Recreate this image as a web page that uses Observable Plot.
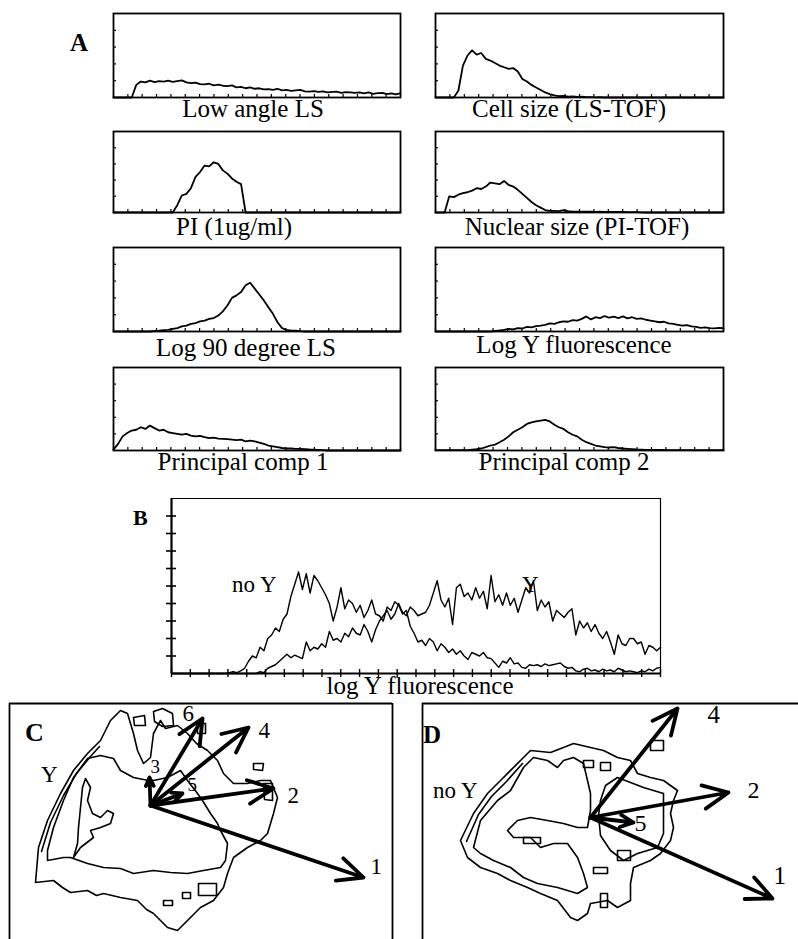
<!DOCTYPE html>
<html>
<head>
<meta charset="utf-8">
<script src="https://cdn.jsdelivr.net/npm/d3@7"></script>
<script src="https://cdn.jsdelivr.net/npm/@observablehq/plot@0.6"></script>
<style>
  html, body { margin: 0; padding: 0; background: #fff; overflow: hidden; }
  #root { position: relative; width: 798px; height: 939px; overflow: hidden; background: #fff; }
  #root svg { position: absolute; background: transparent; }
</style>
</head>
<body>
<div id="root"></div>
<script>
// ---------------- DATA ----------------
// Panel A histogram labels and values (64 bins each, y in units of the 5-tick scale)
const aLabels = ["Low angle LS", "Cell size (LS-TOF)", "PI (1ug/ml)", "Nuclear size (PI-TOF)",
                 "Log 90 degree LS", "Log Y fluorescence", "Principal comp 1", "Principal comp 2"];
const lowAngleLS = [0,0,0,0,0, 0.75,0.95,0.9,1.0,0.92, 0.97,0.95,1.0,0.93,0.98, 1.02,0.9,0.85,0.88,0.8,
  0.78,0.82,0.72,0.76,0.7, 0.68,0.72,0.6,0.63,0.55, 0.6,0.52,0.55,0.48,0.5, 0.45,0.52,0.42,0.45,0.4,
  0.43,0.46,0.37,0.35,0.38, 0.33,0.36,0.3,0.33,0.35, 0.28,0.32,0.3,0.27,0.31, 0.25,0.3,0.22,0.26,0.28,
  0.2,0.25,0.18,0.26];
const cellSize = [0,0,0,0,0, 0.4,1.9,2.5,2.8,2.55, 2.65,2.3,2.2,2.05,1.9, 1.8,1.7,1.75,1.55,1.1,
  0.95,0.75,0.6,0.45,0.3, 0.2,0.12,0.08,0.1,0.05, 0.06,0.03,0.05,0.02,0.02, 0.01,0.02,0,0,0,
  0,0,0,0,0, 0,0,0,0,0, 0,0,0,0,0, 0,0,0,0,0, 0,0,0,0];
const piHist = [0,0,0,0,0, 0,0,0,0,0, 0,0,0,0,0.45, 1.05,1.15,1.5,2.2,2.5,
  2.9,2.85,3.1,3.0,2.6, 2.4,2.1,1.9,1.75,0, 0,0,0,0,0, 0,0,0,0,0,
  0,0,0,0,0, 0,0,0,0,0, 0,0,0,0,0, 0,0,0,0,0, 0,0,0,0];
const nuclearSize = [0,0,0,1.0,0.95, 1.1,1.2,1.25,1.35,1.5, 1.45,1.6,1.85,1.8,1.75, 1.95,1.7,1.6,1.4,1.15,
  0.9,0.65,0.45,0.3,0.15, 0.1,0.1,0.08,0.15,0.08, 0.06,0.05,0.06,0.05,0.05, 0.04,0.05,0.04,0.03,0.04,
  0.03,0.03,0.02,0.02,0.02, 0.01,0,0,0,0, 0,0,0,0,0, 0,0,0,0,0, 0,0,0,0];
const log90LS = [0,0,0,0,0, 0,0,0,0,0.03, 0.05,0.08,0.1,0.15,0.2, 0.3,0.35,0.45,0.5,0.6,
  0.65,0.75,0.8,0.95,1.2, 1.55,2.0,2.15,2.35,2.75, 2.9,2.55,2.2,1.85,1.45, 1.05,0.55,0.2,0.1,0.05,
  0.05,0.02,0,0,0, 0,0,0,0,0, 0,0,0,0,0, 0,0,0,0,0, 0,0,0,0];
const logYFluor = [0,0,0,0,0, 0,0,0,0,0, 0,0,0,0.03,0.06, 0.1,0.15,0.12,0.2,0.18,
  0.28,0.25,0.32,0.35,0.4, 0.48,0.45,0.55,0.6,0.58, 0.68,0.65,0.75,0.9,0.72, 0.85,0.8,0.92,0.82,0.88,
  0.8,0.9,0.78,0.85,0.75, 0.78,0.7,0.65,0.6,0.55, 0.58,0.48,0.45,0.4,0.35, 0.38,0.3,0.28,0.22,0.25,
  0.2,0.18,0.22,0.2];
const princComp1 = [0.05,0.4,0.85,1.05,1.2, 1.25,1.4,1.3,1.5,1.35, 1.2,1.25,1.1,1.05,1.0, 0.95,1.0,0.9,0.85,0.88,
  0.8,0.75,0.78,0.72,0.7, 0.68,0.65,0.62,0.65,0.55, 0.6,0.55,0.48,0.4,0.3, 0.25,0.2,0.15,0.12,0.12,
  0.1,0.1,0.08,0.06,0.05, 0.04,0.02,0,0,0, 0,0,0,0,0, 0,0,0,0,0, 0,0,0,0];
const princComp2 = [0.02,0.02,0.02,0.02,0.02, 0.02,0.02,0.02,0.05,0.08, 0.12,0.2,0.3,0.35,0.5, 0.65,0.85,1.1,1.25,1.4,
  1.6,1.7,1.75,1.8,1.85, 1.75,1.55,1.4,1.3,1.1, 0.95,0.85,0.65,0.5,0.4, 0.3,0.25,0.2,0.18,0.2,
  0.15,0.12,0.1,0.08,0.06, 0.05,0.04,0.04,0.04,0.04, 0.04,0.02,0.02,0.02,0.02, 0.02,0.02,0.02,0.02,0.02,
  0.02,0.02,0.02,0.02];
const aSeries = [lowAngleLS, cellSize, piHist, nuclearSize, log90LS, logYFluor, princComp1, princComp2];
const aYTicks = [1, 2, 3, 4];
const aXTickCount = 20;

// Panel B: log Y fluorescence histograms (128 bins, y on a 10-tick scale)
const noY = [0,0,0,0,0, 0,0,0,0,0, 0,0,0,0,0, 0.05,0.1,0.05,0.15,0.3,
  0.7,1.0,0.9,1.5,1.3, 2.0,2.2,2.6,2.4,3.1, 3.4,4.4,5.1,5.8,4.8, 5.7,4.6,5.6,5.3,4.9,
  4.5,4.0,3.0,3.8,4.9, 3.7,4.2,4.0,3.5,3.9, 3.2,3.6,4.2,3.4,3.3, 3.0,3.8,3.6,4.1,3.9,
  3.4,3.6,2.7,2.3,1.8, 1.9,1.6,2.0,1.8,1.3, 1.7,1.5,1.2,1.4,1.1, 1.3,1.0,0.8,1.2,1.1,
  1.0,1.2,0.9,0.85,0.6, 0.35,0.7,0.6,0.9,0.55, 0.6,0.35,0.3,0.5,0.45, 0.5,0.4,0.55,0.45,0.5,
  0.55,0.6,0.4,0.3,0.35, 0.15,0.1,0.25,0.3,0.15, 0.2,0.1,0.25,0.15,0.2, 0.1,0.3,0.2,0.1,0.15,
  0.1,0.05,0.15,0.1,0.25, 0.15,0.3,0.35];
const withY = [0,0,0,0,0, 0,0,0,0,0, 0,0,0,0,0, 0,0,0,0,0,
  0,0,0,0.1,0.05, 0.3,0.4,0.5,0.7,0.9, 1.1,0.9,1.05,0.95,0.85, 1.8,1.3,1.5,1.4,1.7,
  1.5,2.4,1.9,2.0,1.8, 2.3,2.1,2.6,2.3,2.2, 2.8,2.4,1.8,2.5,3.0, 3.3,3.6,3.1,3.4,4.0,
  3.5,3.3,3.8,3.6,3.3, 3.4,3.5,3.9,4.6,5.3, 4.2,3.8,4.3,2.8,4.9, 5.1,4.4,4.6,4.2,4.9,
  4.3,4.7,3.7,5.6,4.1, 4.5,3.9,4.6,3.9,4.3, 3.5,4.2,4.9,4.6,5.3, 3.6,4.2,3.8,4.1,3.0,
  3.6,3.4,3.2,3.5,3.7, 2.2,3.0,2.6,2.9,2.4, 2.8,2.3,2.0,2.4,1.8, 1.1,2.2,1.7,1.6,2.0,
  2.0,1.7,1.8,1.1,1.6, 1.5,1.3,1.5];
const bYTicks = [1, 2, 3, 4, 5, 6, 7, 8, 9];
const bXTickCount = 26;

// Panel C (Y): contours in principal-component units, arrows from origin
const cOuter = [[-5.75,-3.85],[-4.85,-3.75],[-4.4,-4.1],[-4.0,-4.35],[-3.15,-4.25],[-2.7,-4.5],[-2.35,-4.4],[-1.5,-4.6],
  [-0.65,-4.75],[-0.2,-5.2],[0.15,-5.4],[0.85,-6.1],[1.35,-6.25],[1.85,-5.75],[2.5,-5.1],[3.15,-4.75],[3.65,-4.1],
  [3.85,-3.4],[4.15,-2.6],[4.85,-2.1],[5.5,-1.75],[5.85,-1.4],[6.15,-0.4],[6.35,0.4],[6.0,1.25],[5.5,1.25],
  [4.85,1.1],[4.15,1.1],[3.65,1.6],[3.35,2.25],[2.85,2.75],[2.3,3.1],[1.85,3.6],[1.35,4.0],[0.75,3.85],[0.5,4.25],
  [0.15,3.6],[0,2.4],[-0.35,2.1],[-0.65,2.75],[-0.85,3.6],[-1.15,4.6],[-1.5,4.75],[-2.0,4.25],[-2.5,3.25],
  [-3.15,2.6],[-3.85,1.75],[-4.5,0.6],[-5.15,-0.75],[-5.6,-2.1],[-5.75,-3.85]];
const cOuter2 = [[-5.45,-2.3],[-5.0,-0.85],[-4.35,0.5],[-3.7,1.6],[-3.0,2.45],[-2.55,2.95]];
const cInner = [[-5.15,-2.25],[-5.15,-2.75],[-4.35,-2.6],[-4.0,-2.6],[-3.15,-2.9],[-2.35,-3.1],[-1.5,-3.15],
  [-0.85,-3.4],[0.15,-3.25],[1.0,-3.35],[1.85,-3.4],[2.65,-3.25],[3.5,-3.1],[3.75,-2.75],[3.85,-1.9],[3.5,-1.25],
  [3.35,-0.9],[3.0,-0.4],[2.6,0.25],[2.35,0.6],[1.85,1.25],[1.5,1.75],[0.85,1.4],[0.15,1.25],[-0.1,1.25],
  [-0.85,1.4],[-1.5,1.75],[-1.85,2.35],[-2.5,2.5],[-3.15,2.35],[-3.85,1.4],[-4.35,0.25],[-4.85,-1.1],[-5.15,-2.25]];
const cCore = [[-3.85,-2.6],[-3.65,-1.9],[-3.6,-1.1],[-3.5,-0.1],[-3.4,0.9],[-3.25,1.35],[-3.0,0.9],[-3.15,0.25],
  [-2.9,-0.4],[-2.5,-0.6],[-2.15,-0.25],[-1.85,-0.4],[-2.0,-0.9],[-2.5,-1.1],[-3.0,-1.25],[-2.85,-1.6],[-3.5,-2.1],[-3.85,-2.6]];
const cBlobs = [
  [[0.15,4.7],[0.6,4.85],[1.1,4.6],[1.15,4.0],[0.6,3.95],[0.2,4.2],[0.15,4.7]],
  [[-0.85,4.4],[-0.3,4.5],[-0.25,4.0],[-0.8,4.0],[-0.85,4.4]],
  [[2.35,4.1],[2.75,4.1],[2.75,3.6],[2.35,3.6],[2.35,4.1]],
  [[5.15,2.1],[5.65,2.1],[5.6,1.75],[5.15,1.8],[5.15,2.1]],
  [[5.65,1.1],[6.1,1.1],[6.1,0.25],[5.7,0.3],[5.65,1.1]],
  [[2.4,-3.9],[3.3,-3.9],[3.3,-4.5],[2.4,-4.5],[2.4,-3.9]],
  [[1.6,-4.35],[2.0,-4.35],[2.0,-4.65],[1.6,-4.65],[1.6,-4.35]],
  [[0.65,-4.75],[1.1,-4.75],[1.1,-5.0],[0.65,-5.0],[0.65,-4.75]]
];
const cArrowName = ["1", "2", "3", "4", "5", "6"];
const cArrowX = [10.65, 6.15, -0.05, 4.9, 1.6, 2.6];
const cArrowY = [-3.6, 0.85, 1.4, 3.9, 0.6, 4.35];
const cLabelX = [11.0, 6.85, 0.0, 5.4, 1.85, 1.6];
const cLabelY = [-3.4, 0.15, 1.65, 3.4, 0.75, 4.25];
const cLabelSize = [23, 23, 19, 23, 19, 23];

// Panel D (no Y)
const dOuter = [[-6.5,-1.15],[-5.85,0.2],[-5.15,1.2],[-4.35,2.0],[-3.35,3.0],[-3.0,3.35],[-2.0,3.25],[-1.35,3.5],
  [-0.85,3.7],[0,3.5],[0.65,3.35],[1.35,3.0],[2.0,2.85],[2.35,2.2],[3.0,2.0],[3.65,1.85],[4.35,1.35],[4.15,0.85],
  [4.0,0.2],[4.15,-0.5],[4.0,-1.15],[3.5,-1.8],[3.0,-2.15],[2.15,-2.5],[2.0,-3.3],[2.0,-4.15],[1.35,-4.5],
  [0.85,-4.15],[0,-4.3],[-0.15,-4.8],[-0.65,-5.15],[-1.0,-5.0],[-1.65,-4.15],[-2.5,-3.8],[-3.15,-3.5],
  [-4.0,-3.15],[-4.65,-2.8],[-5.5,-2.5],[-6.15,-2.0],[-6.5,-1.15]];
const dOuter2 = [[-6.2,-1.2],[-5.6,0.15],[-4.95,1.05],[-4.2,1.8],[-3.4,2.7]];
const dInner = [[-5.85,-1.5],[-5.5,-0.15],[-4.65,0.85],[-4.0,1.35],[-3.35,2.5],[-2.85,3.0],[-2.15,2.85],[-1.65,2.5],
  [-1.35,2.85],[-0.85,3.0],[-0.35,2.7],[-0.15,1.85],[0,1.2],[0,0.35],[-0.15,-0.5],[-0.65,-0.5],[-1.35,-0.3],
  [-2.15,-0.15],[-3.0,0],[-3.65,-0.15],[-4.15,-0.65],[-3.85,-1.0],[-3.0,-1.0],[-2.5,-1.5],[-1.85,-1.3],
  [-1.15,-1.3],[-0.65,-2.0],[-0.35,-2.8],[-0.15,-3.5],[-0.65,-3.8],[-1.65,-3.5],[-2.65,-3.3],[-3.35,-3.0],
  [-4.0,-2.5],[-4.85,-2.15],[-5.5,-1.8],[-5.85,-1.5]];
const dRight = [[1.35,2.0],[2.65,1.5],[3.65,1.2],[3.65,0.35],[3.65,-0.8],[3.35,-1.5],[2.35,-1.8],[1.65,-2.15],
  [1.0,-1.65],[0.5,-0.9],[0.4,0.1],[0.5,0.85],[0.75,1.6],[1.35,2.0]];
const dBlobs = [
  [[-0.35,2.85],[0.15,2.85],[0.15,2.5],[-0.35,2.5],[-0.35,2.85]],
  [[0.5,2.75],[1.0,2.75],[1.0,2.35],[0.5,2.35],[0.5,2.75]],
  [[3.0,3.85],[3.65,3.85],[3.65,3.35],[3.0,3.35],[3.0,3.85]],
  [[1.35,-1.65],[2.0,-1.65],[2.0,-2.15],[1.35,-2.15],[1.35,-1.65]],
  [[0.15,-2.5],[0.85,-2.5],[0.85,-2.8],[0.15,-2.8],[0.15,-2.5]],
  [[0.5,-3.8],[0.85,-3.8],[0.85,-4.5],[0.5,-4.5],[0.5,-3.8]],
  [[-3.35,-1.0],[-2.5,-1.0],[-2.5,-1.3],[-3.35,-1.3],[-3.35,-1.0]]
];
const dArrowName = ["1", "2", "4", "5"];
const dArrowX = [9.1, 6.9, 4.35, 2.15];
const dArrowY = [-4.05, 1.25, 5.45, -0.25];
const dLabelX = [9.15, 7.85, 5.85, 2.2];
const dLabelY = [-3.3, 1.0, 4.75, -0.65];
const dLabelSize = [25, 24, 25, 24];

// ---------------- RENDER ----------------
const root = document.getElementById("root");
const SERIF = "'Liberation Serif', 'Times New Roman', serif";

function place(el, left, top) {
  el.style.left = left + "px";
  el.style.top = top + "px";
  root.appendChild(el);
}
function label(txt, x, base, size, opts = {}) {
  const d = document.createElement("div");
  d.textContent = txt;
  d.style.cssText = `position:absolute;left:${x}px;top:${base - 0.8375 * size}px;` +
    `font-family:${SERIF};font-size:${size}px;font-weight:${opts.bold ? "bold" : "normal"};` +
    `line-height:${size}px;white-space:nowrap;color:#000;` +
    (opts.center ? "transform:translateX(-50%);" : "");
  root.appendChild(d);
}

// Panel A
const aCols = [{x: 113, w: 287}, {x: 435, w: 288}];
const aRows = [{y: 13, h: 84}, {y: 131, h: 81}, {y: 247, h: 84}, {y: 367, h: 83}];
const aLabelPos = [[253, 117], [569, 117], [234, 235], [577, 235], [246, 356], [574, 353], [243, 470], [564, 470]];
const aXTicks = d3.range(aXTickCount + 1).map(k => k * 63 / aXTickCount);

aSeries.forEach((vals, idx) => {
  const col = aCols[idx % 2], row = aRows[Math.floor(idx / 2)];
  const w = col.w, h = row.h;
  const svg = Plot.plot({
    width: w + 4, height: h + 4, margin: 2,
    x: {domain: [0, 63], axis: null},
    y: {domain: [0, 5], axis: null},
    marks: [
      Plot.tickY(aYTicks, {y: d => d, insetRight: w - 3, strokeWidth: 1.2}),
      Plot.tickX(aXTicks, {x: d => d, insetTop: h - 3, strokeWidth: 1.2}),
      Plot.line(vals, {x: (d, i) => i, y: d => d, strokeWidth: 1.8, stroke: "#000"}),
      Plot.frame({strokeWidth: 1.8, stroke: "#000"})
    ]
  });
  place(svg, col.x - 2, row.y - 2);
  label(aLabels[idx], aLabelPos[idx][0], aLabelPos[idx][1], 25, {center: true});
});
label("A", 70, 51, 25, {bold: true});

// Panel B
{
  const iw = 489, ih = 175;
  const bXTicks = d3.range(bXTickCount + 1).map(k => k * 127 / bXTickCount);
  const svg = Plot.plot({
    width: iw + 10, height: ih + 10,
    marginLeft: 8, marginRight: 2, marginTop: 2, marginBottom: 8,
    x: {domain: [0, 127], axis: null},
    y: {domain: [0, 10], axis: null},
    marks: [
      Plot.ruleY([10], {strokeWidth: 1.2}),
      Plot.ruleX([127], {strokeWidth: 1.2}),
      Plot.tickY(bYTicks, {y: d => d, insetRight: iw - 10, dx: -5, strokeWidth: 1.6}),
      Plot.tickX(bXTicks, {x: d => d, insetTop: ih - 8, dy: 4, strokeWidth: 1.4}),
      Plot.line(noY, {x: (d, i) => i, y: d => d, strokeWidth: 1.4, stroke: "#000"}),
      Plot.line(withY, {x: (d, i) => i, y: d => d, strokeWidth: 1.4, stroke: "#000"}),
      Plot.ruleX([0], {strokeWidth: 2.2}),
      Plot.ruleY([0], {strokeWidth: 2.2})
    ]
  });
  place(svg, 163, 496);
  label("B", 133, 525, 22, {bold: true});
  label("no Y", 232, 592, 23);
  label("Y", 522, 592, 23);
  label("log Y fluorescence", 420, 694, 25, {center: true});
}

// Helpers for C and D
function contourRows(groups) {
  const out = [];
  groups.forEach((pts, id) => pts.forEach(([x, y]) => out.push({id, x, y})));
  return out;
}
function arrowRows(names, xs, ys, lx, ly, sz) {
  return names.map((n, i) => ({name: n, x: xs[i], y: ys[i], lx: lx[i], ly: ly[i], size: sz[i]}));
}
function biplot(xDomain, yDomain, w, rows, arrows, rightEdge) {
  const marks = [
    Plot.line(rows, {x: "x", y: "y", z: "id", stroke: "#000", strokeWidth: 1.6}),
    Plot.arrow(arrows, {x1: () => 0, y1: () => 0, x2: "x", y2: "y", stroke: "#000",
      strokeWidth: 3.8, headLength: 11, headAngle: 50}),
    Plot.text(arrows, {x: "lx", y: "ly", text: "name", fontSize: "size", textAnchor: "start",
      lineAnchor: "bottom", fill: "#000"}),
    Plot.ruleX([xDomain[0]], {strokeWidth: 1.8}),
    Plot.ruleY([yDomain[1]], {strokeWidth: 1.8})
  ];
  if (rightEdge) marks.push(Plot.ruleX([xDomain[1]], {strokeWidth: 1.8}));
  return Plot.plot({
    width: w, height: 242,
    marginLeft: 2, marginRight: rightEdge ? 2 : 0, marginTop: 2, marginBottom: 0,
    x: {domain: xDomain, axis: null},
    y: {domain: yDomain, axis: null},
    style: {fontFamily: SERIF},
    marks
  });
}

// Panel C
{
  const rows = contourRows([cOuter, cOuter2, cInner, cCore, ...cBlobs]);
  const arrows = arrowRows(cArrowName, cArrowX, cArrowY, cLabelX, cLabelY, cLabelSize);
  const svg = biplot([-7.05, 12.1], [-6.9, 5.1], 387, rows, arrows, true);
  place(svg, 7, 701);
  label("C", 25, 742, 26, {bold: true});
  label("Y", 41, 782, 23);
}

// Panel D
{
  const rows = contourRows([dOuter, dOuter2, dInner, dRight, ...dBlobs]);
  const arrows = arrowRows(dArrowName, dArrowX, dArrowY, dLabelX, dLabelY, dLabelSize);
  const svg = biplot([-8.4, 10.4], [-6.3, 5.7], 378, rows, arrows, false);
  place(svg, 420, 701);
  label("D", 423, 743, 25, {bold: true});
  label("no Y", 433, 798, 23);
}
</script>
</body>
</html>
